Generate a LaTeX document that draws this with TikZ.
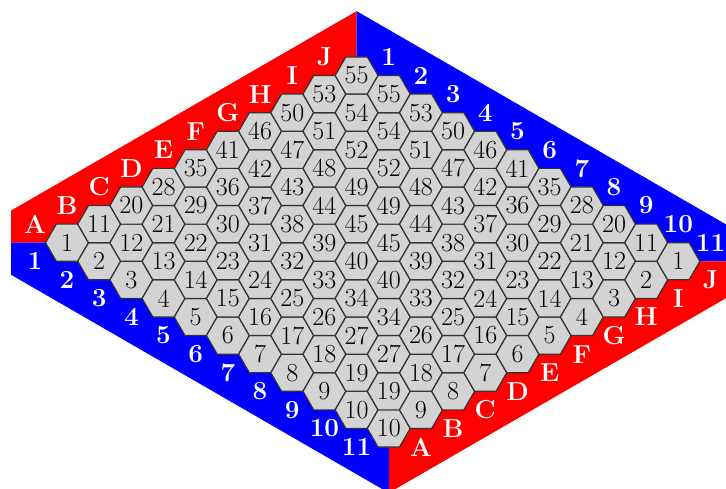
\documentclass[tikz,border=0pt]{standalone}
\usepackage{tikz}
\usetikzlibrary{shapes.geometric}
\definecolor{sidered}{RGB}{255,0,0}
\definecolor{sideblue}{RGB}{0,0,255}
\definecolor{cellgray}{RGB}{211,211,211}

\begin{document}
\begin{tikzpicture}[
  hexcell/.style={regular polygon, regular polygon sides=6, minimum size=1cm,
    inner sep=0pt, outer sep=0pt, draw=black!80, line width=0.8pt, fill=cellgray, font=\LARGE},
  sidelabel/.style={text=white, font=\LARGE\bfseries}
]
  \useasboundingbox (-1.562,-5.741) rectangle (15.36,5.657);
  \clip (-1.562,-5.741) rectangle (15.36,5.657);
  % coloured borders
  \fill[sidered] (-1.305,0) -- (-1.305,0.747) -- (6.75,5.397) -- (6.75,3.897) -- (0,0) -- cycle;
  \fill[sideblue] (6.75,5.397) -- (15.555,0.314) -- (15.555,-0.433) -- (14.25,-0.433) -- (6.75,3.897) -- cycle;
  \fill[sidered] (14.25,-0.433) -- (15.555,-0.433) -- (15.555,-1.18) -- (7.5,-5.83) -- (7.5,-4.33) -- cycle;
  \fill[sideblue] (7.5,-4.33) -- (7.5,-5.83) -- (-1.305,-0.747) -- (-1.305,0) -- (0,0) -- cycle;
  % cells
  \foreach \col in {0,...,9}
    \foreach \row in {0,...,10} {
      \pgfmathtruncatemacro{\diag}{\col+\row}
      \ifnum\diag<10
        \pgfmathtruncatemacro{\cellno}{10*\col-\col*(\col-1)/2+\row+1}
      \else
        \pgfmathtruncatemacro{\cellno}{10*(10-\row)-(10-\row)*(9-\row)/2+(9-\col)+1}
      \fi
      \node[hexcell] (h-\col-\row) at ({0.75*(\col+\row)},{0.433*(\col-\row)}) {\cellno};
    }
  % side labels
  \foreach \lab [count=\i from 0] in {A,...,J} {
    \node[sidelabel] (tl-\i) at ({0.75*(\i-1)},{0.433*(\i+1)}) {\lab};
    \node[sidelabel] (br-\i) at ({0.75*(\i+11)},{0.433*(\i-11)}) {\lab};
  }
  \foreach \lab [count=\r from 0] in {1,...,11} {
    \node[sidelabel] (bl-\r) at ({0.75*(\r-1)},{-0.433*(\r+1)}) {\lab};
    \node[sidelabel] (tr-\r) at ({0.75*(\r+10)},{0.433*(10-\r)}) {\lab};
  }
\end{tikzpicture}
\end{document}
